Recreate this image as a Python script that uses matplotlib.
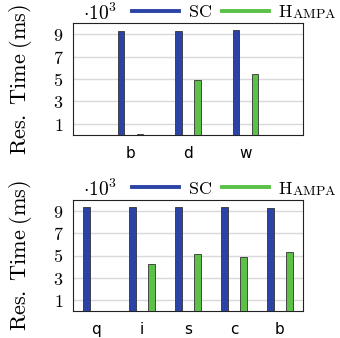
import matplotlib
matplotlib.use('Agg')
import matplotlib.pyplot as plt
from matplotlib.lines import Line2D
import numpy as np

plt.rcParams['mathtext.fontset'] = 'cm'

# top panel
top_labels = ['b', 'd', 'w']
top_sc = [9.32, 9.33, 9.36]
top_hampa = [0.05, 4.93, 5.42]

# bottom panel
bot_labels = ['q', 'i', 's', 'c', 'b']
bot_sc = [9.36, 9.35, 9.38, 9.38, 9.27]
bot_hampa = [0.05, 4.27, 5.17, 4.9, 5.29]

yticks = [1, 3, 5, 7, 9]

BLUE = '#2b43a6'
GREEN = '#5cc146'
EDGE = '#333333'

fig = plt.figure(figsize=(3.4, 3.38), dpi=100)
ax_top = fig.add_axes([73/340, 1-135/338, 230/340, 111.7/338])
ax_bot = fig.add_axes([73/340, 1-311.3/338, 230/340, 111.6/338])


def draw(ax, labels, sc, hampa, xlim):
    x = np.arange(1, len(labels)+1)
    ax.set_xlim(*xlim)
    px_per_unit = 230 / (xlim[1]-xlim[0])
    off = 9.5 / px_per_unit
    w = 6.5 / px_per_unit
    ax.bar(x-off, sc, w, color=BLUE, edgecolor=EDGE, linewidth=0.6, zorder=3)
    ax.bar(x+off, hampa, w, color=GREEN, edgecolor=EDGE, linewidth=0.6, zorder=3)
    ax.set_ylim(0, 10)
    ax.set_yticks(yticks)
    ax.set_yticklabels([r'$%d$' % t for t in yticks], fontsize=13)
    ax.set_xticks(x)
    ax.set_xticklabels(labels, fontsize=11, family='DejaVu Sans')
    ax.yaxis.grid(True, color='#d9d9d9', linewidth=1.0, zorder=0)
    ax.tick_params(length=0)
    ax.tick_params(axis='y', pad=7)
    ax.tick_params(axis='x', pad=8)
    for s in ax.spines.values():
        s.set_color('#222222')
        s.set_linewidth(0.8)
    ax.set_ylabel(r'$\mathrm{Res.\;Time\;(ms)}$', fontsize=16, labelpad=13)
    ax.text(10/230, 1.03, r'$\cdot 10^3$', transform=ax.transAxes,
            fontsize=14, ha='left', va='baseline')
    handles = [Line2D([], [], color=BLUE, lw=2.8),
               Line2D([], [], color=GREEN, lw=2.8)]
    leg = ax.legend(handles, [r'$\mathrm{SC}$', r'$\mathrm{H}$'], ncol=2,
                    loc='center left', bbox_to_anchor=(0.255, 1 + 11/111.7),
                    frameon=False, fontsize=13, handlelength=2.6,
                    handletextpad=0.5, columnspacing=0.6, borderpad=0,
                    borderaxespad=0)
    return leg


legs = [draw(ax_top, top_labels, top_sc, top_hampa, (0, 4)),
        draw(ax_bot, bot_labels, bot_sc, bot_hampa, (0.5, 5.5))]

fig.canvas.draw()
W, H = fig.canvas.get_width_height()
for leg in legs:
    bb = leg.get_texts()[1].get_window_extent()
    fig.text((bb.x1 - 1.5)/W, bb.y0/H, r'$\mathrm{AMPA}$', fontsize=10,
             ha='left', va='bottom')

fig.savefig('out.png', dpi=100)
